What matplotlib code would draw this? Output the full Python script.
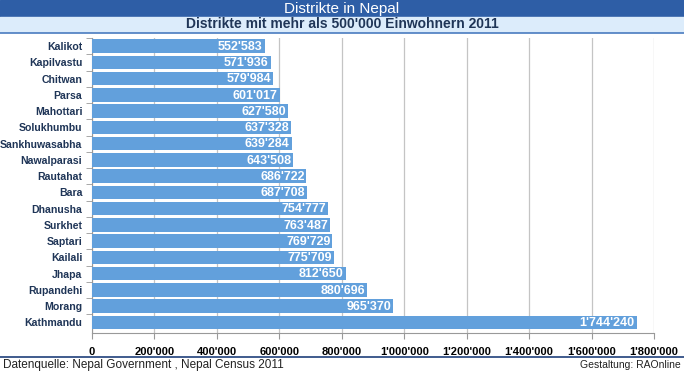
import matplotlib.pyplot as plt
from matplotlib.patches import Rectangle

districts = ["Kalikot", "Kapilvastu", "Chitwan", "Parsa", "Mahottari", "Solukhumbu",
             "Sankhuwasabha", "Nawalparasi", "Rautahat", "Bara", "Dhanusha", "Surkhet",
             "Saptari", "Kailali", "Jhapa", "Rupandehi", "Morang", "Kathmandu"]
population = [552583, 571936, 579984, 601017, 627580, 637328, 639284, 643508, 686722,
              687708, 754777, 763487, 769729, 775709, 812650, 880696, 965370, 1744240]
xticks = [0, 200000, 400000, 600000, 800000, 1000000, 1200000, 1400000, 1600000, 1800000]


def swiss(v):
    return f"{v:,}".replace(",", "'")


font = "Liberation Sans"
navy = "#1f3557"
bar_color = "#62a0dc"

fig = plt.figure(figsize=(6.84, 3.73), dpi=100)
W, H = 684, 373

# title bands
fig.patches.append(Rectangle((0, 1 - 16 / H), 1, 16 / H, transform=fig.transFigure,
                             color="#2e5ea6", zorder=0))
fig.patches.append(Rectangle((0, 1 - 32 / H), 1, 15 / H, transform=fig.transFigure,
                             color="#dcecfb", zorder=0))
fig.add_artist(plt.Line2D([0, 1], [1 - 32.5 / H] * 2, color="#4a7cc0", lw=1.2))
fig.text(0.5, 1 - 8.5 / H, "Distrikte in Nepal", color="white", fontsize=11,
         ha="center", va="center", family=font)
fig.text(0.5, 1 - 24.5 / H, "Distrikte mit mehr als 500'000 Einwohnern 2011", color=navy,
         fontsize=10, fontweight="bold", ha="center", va="center", family=font)

ax = fig.add_axes([92 / W, 1 - 333 / H, 562 / W, 295 / H])
pos = list(range(len(districts)))
ax.barh(pos, population, height=0.83, color=bar_color, zorder=3)
for p, v in zip(pos, population):
    ax.text(v - 6000, p + 0.05, swiss(v), color="white", fontsize=9, fontweight="bold",
            ha="right", va="center", family=font, zorder=4)

ax.set_ylim(17.65, -0.5)
ax.set_xlim(0, 1800000)
ax.set_yticks(pos)
ax.set_yticklabels(districts, fontsize=7.6, fontweight="bold", color=navy, family=font)
ax.set_yticks([p + 0.5 for p in pos[:-1]] + [-0.5], minor=True)
ax.tick_params(axis="y", which="major", length=0, pad=7)
ax.tick_params(axis="y", which="minor", length=4, color="#999999")
ax.set_xticks(xticks)
ax.set_xticklabels([swiss(t) for t in xticks], fontsize=8, fontweight="bold", color="black",
                   family=font)
ax.tick_params(axis="x", length=4, color="#999999", pad=6)
ax.grid(axis="x", color="#c4c4c4", lw=0.9, zorder=0)
for s in ["top", "right"]:
    ax.spines[s].set_visible(False)
ax.spines["left"].set_color("#999999")
ax.spines["bottom"].set_color("#999999")

# footer
fig.add_artist(plt.Line2D([0, 1], [1 - 357 / H] * 2, color="#1f3f7a", lw=1.2))
fig.text(3 / W, 1 - 365 / H, "Datenquelle: Nepal Government , Nepal Census 2011",
         fontsize=8.5, color="#222222", ha="left", va="center", family=font)
fig.text(1 - 3 / W, 1 - 365 / H, "Gestaltung: RAOnline", fontsize=7.5, color="#222222",
         ha="right", va="center", family=font)

fig.savefig("out.png", dpi=100)
